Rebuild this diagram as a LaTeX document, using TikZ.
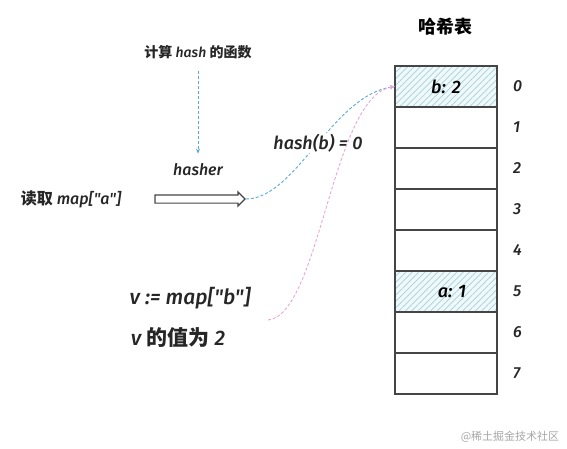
\documentclass[tikz,border=0pt]{standalone}
\usepackage{fontspec}
\setmainfont{Fira Sans}[Ligatures=TeXOff, BoldFont={* Medium}, BoldItalicFont={* Medium Italic}]
\newfontfamily\cjk{Noto Sans CJK SC}
\usetikzlibrary{positioning,shapes.arrows,patterns.meta,arrows.meta}
\definecolor{encre}{HTML}{454545}
\definecolor{bleu}{HTML}{5AA8D8}
\definecolor{rose}{HTML}{E8A6D4}
\definecolor{hachure}{HTML}{9FD3DC}

\begin{document}
\begin{tikzpicture}[x=1pt, y=-1pt,
    texte/.style={font=\fontsize{16}{19}\selectfont\bfseries\itshape, text=black!85, inner sep=1pt},
    grand/.style={font=\fontsize{21}{24}\selectfont\bfseries\itshape, text=black!85, inner sep=1pt},
    bucket/.style={draw=encre, line width=1.6pt, minimum width=102pt, minimum height=41pt,
                   inner sep=0pt, outer sep=0pt, font=\fontsize{18}{21}\selectfont\bfseries\itshape},
    plein/.style={preaction={fill=hachure!15},
                  preaction={pattern={Lines[angle=45, distance=4.5pt, line width=0.7pt]}, pattern color=hachure}},
    lien/.style={densely dashed, line width=0.9pt, -{Stealth[length=5pt, width=4pt]}}
]
    \useasboundingbox (0,0) rectangle (567,449);

    \node[font=\fontsize{18}{21}\selectfont\cjk\bfseries] (titre) at (445,27) {哈希表};
    \foreach \i/\val/\look in {0/b: 2/plein, 1//, 2//, 3//, 4//, 5/\hspace{12pt}a: 1/plein, 6//, 7//} {
        \node[bucket, \look] (r\i) at (446, {86.5+41*\i}) {\val};
        \node[texte, right=15pt of r\i] (idx\i) {\i};
    }

    \node[texte, font=\fontsize{14}{16}\selectfont\bfseries\itshape] (calcul) at (198,52) {{\cjk\bfseries 计算} hash {\cjk\bfseries 的函数}};
    \node[texte] (hasher) at (198,170) {hasher};
    \node[texte] (lire) at (71,199) {{\cjk\bfseries 读取} map["a"]};
    \node[single arrow, draw=encre, fill=white, line width=1.2pt, inner sep=3.5pt,
          single arrow head extend=3pt, minimum height=90pt] (fleche) at (198,199) {};

    \draw[lien, bleu, shorten <=11pt, shorten >=9pt] (calcul) -- (hasher);
    \draw[lien, bleu] (fleche.east) .. controls +(50,0) and +(-63,9) .. (r0.west);
    \node[texte, font=\fontsize{18}{21}\selectfont\bfseries\itshape, fill=white] (hashb) at (318,143) {hash(b) = 0};

    \node[grand] (vmap) at (190,298) {v := map["b"]};
    \node[grand] (vval) at (178,338) {v {\cjk\bfseries 的值为} 2};
    \coordinate (depart) at (268,320);
    \draw[lien, rose] (depart) .. controls +(52,-5) and +(-63,9) .. (r0.west);

    \node[font=\fontsize{11}{13}\selectfont\cjk, text=black!35] (marque) at (510,437) {@稀土掘金技术社区};
\end{tikzpicture}
\end{document}
